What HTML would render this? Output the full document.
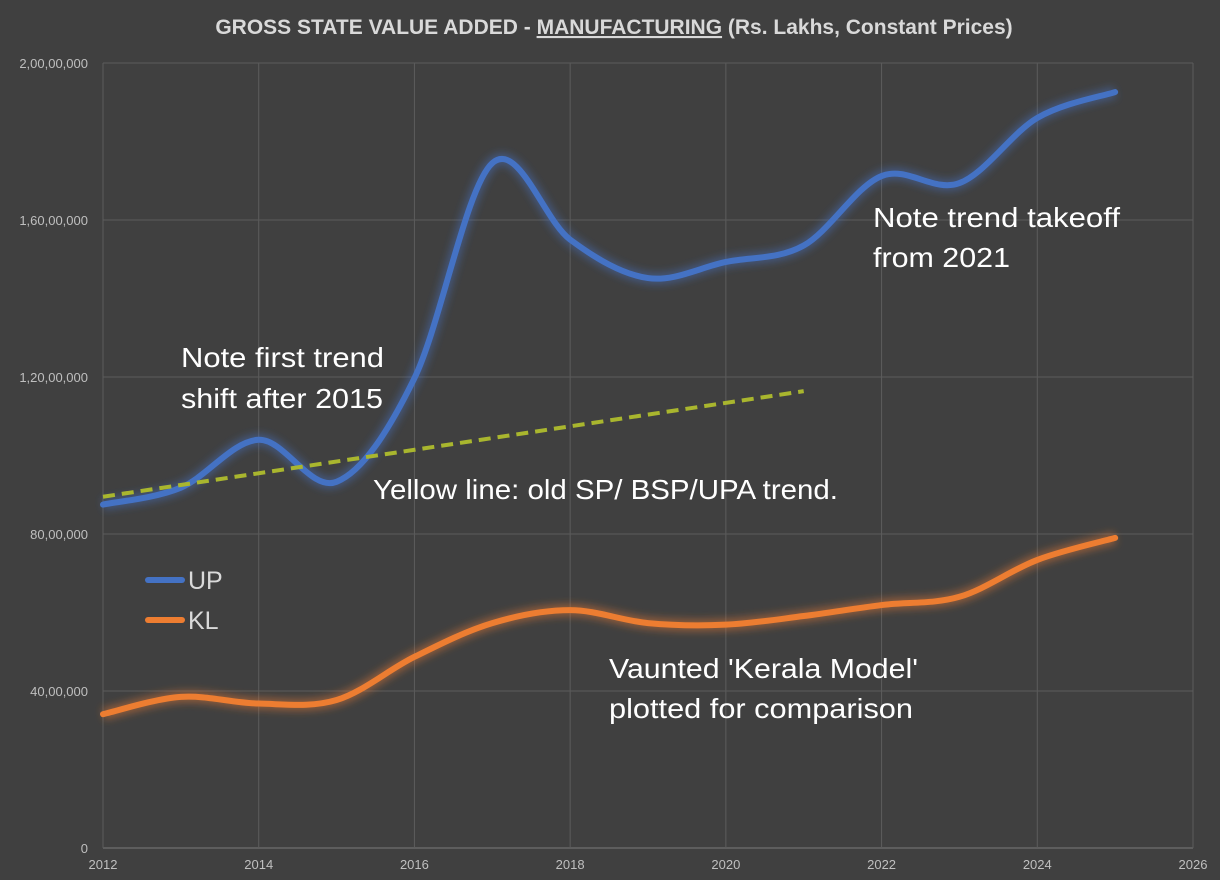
<!DOCTYPE html>
<html><head><meta charset="utf-8"><style>
html,body{margin:0;padding:0;background:#404040;}
svg{display:block;font-family:"Liberation Sans",Arial,sans-serif;}
</style></head><body>
<svg id="chart" width="1220" height="880" viewBox="0 0 1220 880" xmlns="http://www.w3.org/2000/svg">
<defs>
<filter id="glow" x="-10%" y="-10%" width="120%" height="120%"><feGaussianBlur stdDeviation="4"/></filter>
</defs>
<rect width="1220" height="880" fill="#404040"/>
<text x="614" y="34" text-anchor="middle" font-size="21" font-weight="bold" fill="#d9d9d9">GROSS STATE VALUE ADDED - <tspan text-decoration="underline">MANUFACTURING</tspan> (Rs. Lakhs, Constant Prices)</text>
<g id="grid"></g>
<g id="axes"></g>
<g id="series"></g>
<g>
<line x1="148" y1="580" x2="182" y2="580" stroke="#4472c4" stroke-width="6" stroke-linecap="round"/>
<text x="188" y="589" font-size="25" fill="#d9d9d9">UP</text>
<line x1="148" y1="620" x2="182" y2="620" stroke="#ed7d31" stroke-width="6" stroke-linecap="round"/>
<text x="188" y="629" font-size="25" fill="#d9d9d9">KL</text>
</g>
<g font-size="28" fill="#ffffff">
<text x="181" y="367" textLength="203" lengthAdjust="spacingAndGlyphs">Note first trend</text>
<text x="181" y="408" textLength="202" lengthAdjust="spacingAndGlyphs">shift after 2015</text>
<text x="873" y="227" textLength="247" lengthAdjust="spacingAndGlyphs">Note trend takeoff</text>
<text x="873" y="267" textLength="137" lengthAdjust="spacingAndGlyphs">from 2021</text>
<text x="373" y="499" textLength="465" lengthAdjust="spacingAndGlyphs">Yellow line: old SP/ BSP/UPA trend.</text>
<text x="609" y="678" textLength="309" lengthAdjust="spacingAndGlyphs">Vaunted 'Kerala Model'</text>
<text x="609" y="718" textLength="304" lengthAdjust="spacingAndGlyphs">plotted for comparison</text>
</g>
</svg>
<script>
const years = [2012,2013,2014,2015,2016,2017,2018,2019,2020,2021,2022,2023,2024,2025];
const upValues = [87.5,91.8,104,93.3,119.7,174.5,155,145.2,149.3,153.5,171.2,169.4,186,192.6];
const klValues = [34.1,38.5,36.8,37.7,48.7,57.3,60.6,57.3,56.9,59.1,61.9,64,73.4,79];
const trendYears = [2012,2021];
const trendValues = [89.5,116.4];
const xTicks = [2012,2014,2016,2018,2020,2022,2024,2026];
const yTicks = [0,40,80,120,160,200];
const yTickLabels = ["0","40,00,000","80,00,000","1,20,00,000","1,60,00,000","2,00,00,000"];

const NS="http://www.w3.org/2000/svg";
const X0=103,X1=1193,Y0=848,Y1=63;
const xs=v=>X0+(v-2012)/(2026-2012)*(X1-X0);
const ys=v=>Y0-(v/200)*(Y0-Y1);
function mk(tag,attrs,parent){const e=document.createElementNS(NS,tag);for(const k in attrs)e.setAttribute(k,attrs[k]);parent.appendChild(e);return e;}
const grid=document.getElementById('grid'),axes=document.getElementById('axes'),series=document.getElementById('series');
yTicks.forEach((t,i)=>{
  const l=mk('line',{x1:X0,x2:X1,y1:ys(t),y2:ys(t),stroke:t===0?'#7a7a7a':'#5c5c5c','stroke-width':1},grid);
  
  
  const tx=mk('text',{x:X0-15,y:ys(t)+5,'text-anchor':'end','font-size':13,fill:'#bfbfbf'},axes);
  tx.textContent=yTickLabels[i];
  
  
});
xTicks.forEach(t=>{
  const l=mk('line',{x1:xs(t),x2:xs(t),y1:Y1,y2:Y0,stroke:'#5c5c5c','stroke-width':1},grid);
  
  
  const tx=mk('text',{x:xs(t),y:Y0+21,'text-anchor':'middle','font-size':13,fill:'#bfbfbf'},axes);
  tx.textContent=t;
  
  
});
function smooth(xv,yv){
  const p=xv.map((x,i)=>[xs(x),ys(yv[i])]);
  let d=`M${p[0][0]},${p[0][1]}`;
  for(let i=0;i<p.length-1;i++){
    const p0=p[i-1]||p[i],p1=p[i],p2=p[i+1],p3=p[i+2]||p2;
    const c1=[p1[0]+(p2[0]-p0[0])/6,p1[1]+(p2[1]-p0[1])/6];
    const c2=[p2[0]-(p3[0]-p1[0])/6,p2[1]-(p3[1]-p1[1])/6];
    d+=` C${c1[0]},${c1[1]} ${c2[0]},${c2[1]} ${p2[0]},${p2[1]}`;
  }
  return d;
}
function drawSeries(vals,color,name){
  const d=smooth(years,vals);
  const g=mk('path',{d,fill:'none',stroke:color,'stroke-width':12,'stroke-opacity':0.45,filter:'url(#glow)'},series);
  
  
  const l=mk('path',{d,fill:'none',stroke:color,'stroke-width':6,'stroke-linecap':'round'},series);
  
  
}
drawSeries(upValues,'#4472c4','up');
drawSeries(klValues,'#ed7d31','kl');
const tl=mk('line',{x1:xs(trendYears[0]),y1:ys(trendValues[0]),x2:xs(trendYears[1]),y2:ys(trendValues[1]),stroke:'#a9b62e','stroke-width':4,'stroke-dasharray':'12 7'},series);


</script>
</body></html>
